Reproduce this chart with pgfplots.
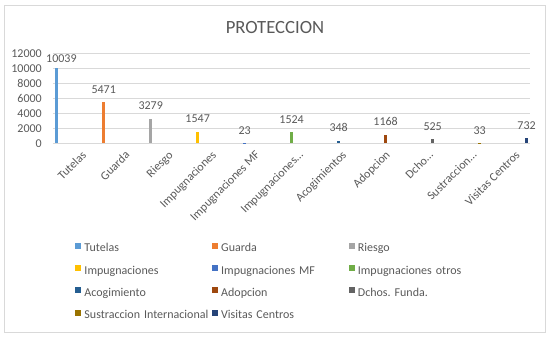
\documentclass[border=0pt]{standalone}
\usepackage{fontspec}
\setmainfont{Carlito}
\usepackage{pgfplots}
\pgfplotsset{compat=1.18}
\definecolor{txt}{HTML}{595959}
\definecolor{gridc}{HTML}{D9D9D9}
\definecolor{c1}{HTML}{5B9BD5}
\definecolor{c2}{HTML}{ED7D31}
\definecolor{c3}{HTML}{A5A5A5}
\definecolor{c4}{HTML}{FFC000}
\definecolor{c5}{HTML}{4472C4}
\definecolor{c6}{HTML}{70AD47}
\definecolor{c7}{HTML}{255E91}
\definecolor{c8}{HTML}{9E480E}
\definecolor{c9}{HTML}{636363}
\definecolor{c10}{HTML}{997300}
\definecolor{c11}{HTML}{264478}
\pgfplotsset{mybar/.style={ybar, bar width=3.3pt, draw=none, bar shift=#1,
  every node near coord/.append style={xshift=#1},
  legend image code/.code={\fill[##1] (0pt,0pt) rectangle (6pt,6pt);}}}
\begin{document}
\begin{tikzpicture}[x=1pt,y=1pt]
\useasboundingbox (0,0) rectangle (550,337);
\draw[color=gridc, line width=0.75pt] (4,4.5) rectangle (545.5,332);
\node[font=\fontsize{18.67}{22}\selectfont, text=txt, anchor=base] at (275,303.5) {PROTECCION};
\begin{axis}[
  at={(53pt,193.7pt)}, anchor=south west,
  scale only axis, width=477pt, height=89.8pt,
  xmin=-0.5, xmax=10.5, ymin=0, ymax=12000,
  ytick={0,2000,...,12000}, xtick={0,...,10},
  xticklabels={Tutelas,Guarda,Riesgo,Impugnaciones,Impugnaciones MF,Impugnaciones…,Acogimientos,Adopcion,Dcho…,Sustraccion…,Visitas Centros},
  ymajorgrids, grid style={color=gridc, line width=0.75pt},
  axis line style={draw=none}, major tick length=0pt,
  tick label style={font=\fontsize{12}{14}\selectfont, text=txt},
  /pgf/number format/assume math mode=true,
  scaled y ticks=false,
  yticklabel style={/pgf/number format/fixed, /pgf/number format/1000 sep={}, inner sep=0pt, anchor=east, xshift=-11pt},
  xticklabel style={rotate=45, anchor=north east, inner sep=0pt, yshift=-9pt},
  clip=false,
  nodes near coords={\pgfmathprintnumber[fixed,precision=0,1000 sep={},assume math mode=true]{\pgfplotspointmeta}},
  every node near coord/.append style={font=\fontsize{12}{14}\selectfont, text=txt, anchor=south, inner sep=0pt, yshift=8.5pt},
  legend columns=3,
  legend cell align=left,
  legend style={at={(0.0461,-1.106)}, anchor=north west, draw=none, fill=none, inner sep=0pt,
    font=\fontsize{12}{14}\selectfont, text=txt, row sep=10.3pt,
    nodes={inner sep=0pt, text height=9pt, text depth=3pt},
    /tikz/every even column/.append style={text width=127.4pt},
    /tikz/every odd column/.append style={column sep=3.3pt}},
]
\addplot[mybar=-18pt, fill=c1, every node near coord/.append style={xshift=4.7pt, yshift=-3.5pt}] coordinates {(0,10039)};
\addlegendentry{Tutelas}
\addplot[mybar=-14.37pt, fill=c2] coordinates {(1,5471)};
\addlegendentry{Guarda}
\addplot[mybar=-10.74pt, fill=c3] coordinates {(2,3279)};
\addlegendentry{Riesgo}
\addplot[mybar=-7.11pt, fill=c4] coordinates {(3,1547)};
\addlegendentry{Impugnaciones}
\addplot[mybar=-3.48pt, fill=c5] coordinates {(4,23)};
\addlegendentry{Impugnaciones MF}
\addplot[mybar=0.15pt, fill=c6] coordinates {(5,1524)};
\addlegendentry{Impugnaciones otros}
\addplot[mybar=3.78pt, fill=c7] coordinates {(6,348)};
\addlegendentry{Acogimiento}
\addplot[mybar=7.41pt, fill=c8] coordinates {(7,1168)};
\addlegendentry{Adopcion}
\addplot[mybar=11.04pt, fill=c9] coordinates {(8,525)};
\addlegendentry{Dchos.\ Funda.}
\addplot[mybar=14.67pt, fill=c10] coordinates {(9,33)};
\addlegendentry{Sustraccion Internacional}
\addplot[mybar=18.3pt, fill=c11] coordinates {(10,732)};
\addlegendentry{Visitas Centros}
\end{axis}
\end{tikzpicture}
\end{document}
